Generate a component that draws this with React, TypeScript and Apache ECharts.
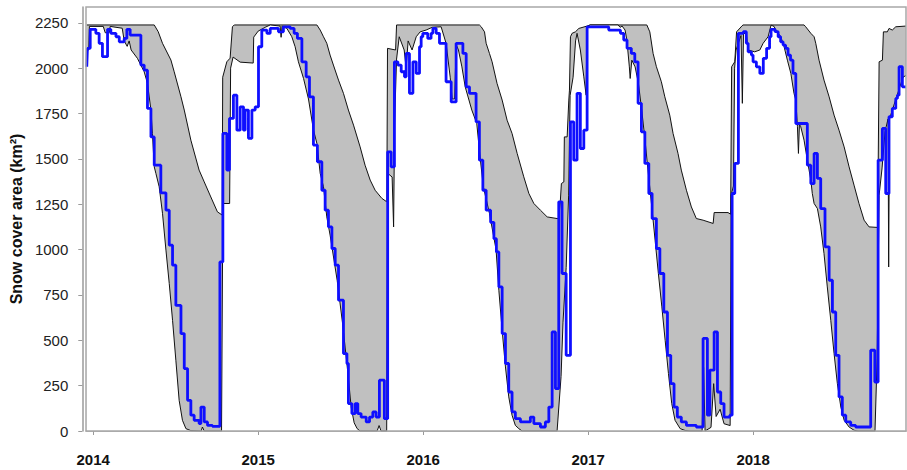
import React, { useEffect, useRef } from "react";
import * as echarts from "echarts";

const yearTicks = [2014, 2015, 2016, 2017, 2018];
const areaTicks = [0, 250, 500, 750, 1000, 1250, 1500, 1750, 2000, 2250];

// Upper envelope of the range (decimal year, km²)
const upperEnvelope: [number, number][] = [
  [2013.961, 2238], [2014.370, 2238], [2014.394, 2201], [2014.420, 2137], [2014.471, 2045], [2014.491, 1980],
  [2014.532, 1842], [2014.552, 1769], [2014.592, 1603], [2014.642, 1438], [2014.673, 1373], [2014.713, 1290],
  [2014.753, 1208], [2014.782, 1190], [2014.785, 1950], [2014.810, 2035], [2014.830, 2055], [2014.844, 2228],
  [2014.855, 2238],
  [2015.356, 2238], [2015.376, 2210], [2015.396, 2173], [2015.416, 2137], [2015.436, 2072], [2015.456, 2017],
  [2015.487, 1934], [2015.517, 1861], [2015.547, 1769], [2015.578, 1686], [2015.618, 1566], [2015.648, 1465],
  [2015.679, 1383], [2015.709, 1327], [2015.750, 1282], [2015.780, 1263], [2015.784, 2109], [2015.833, 2100],
  [2015.839, 2238],
  [2016.341, 2238], [2016.352, 2228], [2016.372, 2200], [2016.382, 2137], [2016.402, 2081], [2016.418, 2035],
  [2016.448, 1916], [2016.479, 1824], [2016.509, 1713], [2016.539, 1640], [2016.570, 1530], [2016.610, 1401],
  [2016.641, 1309], [2016.671, 1254], [2016.711, 1217], [2016.752, 1180], [2016.812, 1171], [2016.822, 1171],
  [2016.832, 1272], [2016.838, 1364], [2016.853, 1373], [2016.856, 1621], [2016.873, 1621], [2016.883, 1824],
  [2016.887, 1879], [2016.893, 2173], [2016.903, 2192], [2016.923, 2200], [2016.944, 2219], [2016.994, 2232],
  [2017.012, 2238],
  [2017.356, 2238], [2017.374, 2200], [2017.394, 2081], [2017.414, 2008], [2017.444, 1925], [2017.465, 1842],
  [2017.495, 1741], [2017.515, 1640], [2017.545, 1530], [2017.565, 1438], [2017.596, 1327], [2017.626, 1235],
  [2017.656, 1171], [2017.697, 1162], [2017.758, 1144], [2017.764, 1204], [2017.848, 1204], [2017.864, 1195],
  [2017.870, 2008], [2017.889, 2035], [2017.900, 2200], [2017.932, 2232], [2017.939, 2238],
  [2018.309, 2238], [2018.319, 2228], [2018.350, 2192], [2018.370, 2173], [2018.380, 2137], [2018.400, 2044],
  [2018.430, 1934], [2018.461, 1842], [2018.491, 1741], [2018.521, 1658], [2018.552, 1566], [2018.582, 1456],
  [2018.612, 1355], [2018.642, 1254], [2018.673, 1162], [2018.703, 1125], [2018.755, 1122], [2018.764, 2035],
  [2018.784, 2044], [2018.790, 2200], [2018.814, 2200], [2018.824, 2219], [2018.844, 2210], [2018.865, 2228],
  [2018.927, 2232],
];

// Lower envelope of the range
const lowerEnvelope: [number, number][] = [
  [2013.961, 2100], [2013.973, 2100], [2013.977, 2230], [2014.061, 2230], [2014.073, 2195], [2014.097, 2195],
  [2014.103, 2230], [2014.176, 2220], [2014.188, 2150], [2014.206, 2120], [2014.218, 2150], [2014.230, 2100],
  [2014.268, 2054], [2014.309, 1980], [2014.329, 1916], [2014.350, 1769], [2014.359, 1641], [2014.370, 1456],
  [2014.380, 1420], [2014.400, 1346], [2014.420, 1200], [2014.441, 997], [2014.461, 813], [2014.481, 610],
  [2014.501, 390], [2014.521, 169], [2014.541, 59], [2014.562, 13], [2014.592, 2], [2014.655, 0],
  [2014.662, 22], [2014.673, 0], [2014.778, 0], [2014.786, 1254], [2014.827, 1254], [2014.833, 2000],
  [2014.848, 2061], [2014.891, 2033], [2014.970, 2028], [2014.973, 2171], [2015.000, 2204], [2015.042, 2225],
  [2015.073, 2238], [2015.133, 2232], [2015.139, 2170], [2015.145, 2232], [2015.174, 2219], [2015.204, 2173],
  [2015.224, 2118], [2015.244, 2035], [2015.275, 1943], [2015.305, 1830], [2015.335, 1660], [2015.356, 1585],
  [2015.376, 1420], [2015.396, 1346], [2015.416, 1180], [2015.436, 1080], [2015.479, 830], [2015.512, 590],
  [2015.542, 335], [2015.564, 130], [2015.582, 45], [2015.600, 13], [2015.618, 0], [2015.721, 0],
  [2015.733, 30], [2015.745, 0], [2015.779, 0], [2015.785, 1420], [2015.812, 1400], [2015.821, 1125],
  [2015.827, 1700], [2015.839, 2050], [2015.855, 2173], [2015.885, 2100], [2015.897, 2000], [2015.909, 2150],
  [2015.933, 2100], [2015.958, 2173], [2015.982, 2200], [2016.018, 2210], [2016.055, 2225], [2016.109, 2228],
  [2016.139, 2137], [2016.164, 1950], [2016.176, 1830], [2016.191, 1830], [2016.200, 2130], [2016.214, 2100],
  [2016.235, 2007], [2016.255, 1897], [2016.295, 1769], [2016.325, 1695], [2016.345, 1511], [2016.365, 1346],
  [2016.402, 1199], [2016.442, 1000], [2016.459, 776], [2016.479, 555], [2016.499, 353], [2016.519, 188],
  [2016.539, 87], [2016.559, 31], [2016.580, 13], [2016.600, 0], [2016.812, 0], [2016.836, 300],
  [2016.848, 600], [2016.867, 900], [2016.882, 1300], [2016.891, 1850], [2016.909, 1950], [2016.924, 2150],
  [2016.933, 2192], [2016.953, 2100], [2016.974, 1952], [2016.988, 1851], [2016.993, 2228], [2017.012, 2238],
  [2017.182, 2238], [2017.194, 2225], [2017.206, 2232], [2017.224, 2210], [2017.235, 2155], [2017.250, 2007],
  [2017.255, 1943], [2017.265, 2044], [2017.285, 2007], [2017.305, 1916], [2017.325, 1769], [2017.345, 1603],
  [2017.365, 1420], [2017.386, 1235], [2017.406, 1052], [2017.426, 868], [2017.447, 684], [2017.467, 500],
  [2017.487, 317], [2017.507, 151], [2017.527, 59], [2017.558, 13], [2017.588, 3], [2017.618, 0],
  [2017.691, 0], [2017.700, 350], [2017.709, 0], [2017.745, 20], [2017.761, 261], [2017.776, 80],
  [2017.800, 120], [2017.824, 40], [2017.861, 30], [2017.867, 1300], [2017.881, 1350], [2017.888, 2000],
  [2017.897, 2100], [2017.927, 2180], [2017.935, 1806], [2017.942, 2190], [2017.959, 2192], [2017.970, 2100],
  [2018.010, 2090], [2018.041, 2100], [2018.061, 2137], [2018.091, 2173], [2018.109, 2237], [2018.127, 2230],
  [2018.138, 2210], [2018.168, 2173], [2018.188, 2118], [2018.208, 2044], [2018.229, 1971], [2018.248, 1861],
  [2018.259, 1824], [2018.269, 1677], [2018.275, 1530], [2018.281, 1690], [2018.289, 1677], [2018.309, 1603],
  [2018.329, 1493], [2018.350, 1383], [2018.359, 1309], [2018.370, 1254], [2018.390, 1226], [2018.410, 1125],
  [2018.430, 978], [2018.450, 794], [2018.471, 610], [2018.491, 427], [2018.511, 261], [2018.532, 132],
  [2018.552, 59], [2018.582, 22], [2018.612, 4], [2018.636, 0], [2018.739, 0], [2018.752, 400],
  [2018.764, 1300], [2018.782, 1450], [2018.800, 1650], [2018.818, 1720], [2018.822, 904], [2018.827, 1720],
  [2018.848, 1780], [2018.873, 1850], [2018.891, 1900], [2018.909, 1950], [2018.927, 1960],
];

// Observed snow cover (8-day steps): [start of step, value]
const observed: [number, number][] = [
  [2013.961, 2008], [2013.965, 2109], [2013.982, 2214], [2014.016, 2192], [2014.036, 2137], [2014.056, 2063],
  [2014.087, 2214], [2014.107, 2192], [2014.138, 2173], [2014.158, 2145], [2014.188, 2164], [2014.204, 2214],
  [2014.224, 2182], [2014.289, 2017], [2014.309, 1989], [2014.329, 1778], [2014.350, 1621], [2014.370, 1465],
  [2014.410, 1313], [2014.441, 1217], [2014.461, 1024], [2014.481, 914], [2014.501, 692], [2014.532, 537],
  [2014.552, 344], [2014.572, 169], [2014.592, 87], [2014.612, 59], [2014.642, 41], [2014.653, 132],
  [2014.673, 50], [2014.693, 31], [2014.723, 26], [2014.768, 932], [2014.786, 1640], [2014.810, 1438],
  [2014.826, 1723], [2014.850, 1851], [2014.871, 1658], [2014.891, 1787], [2014.911, 1658], [2014.921, 1769],
  [2014.941, 1613], [2014.962, 1769], [2014.982, 1787], [2015.002, 2118], [2015.022, 2210], [2015.053, 2192],
  [2015.073, 2219], [2015.123, 2200], [2015.153, 2228], [2015.194, 2219], [2015.218, 2192], [2015.238, 2164],
  [2015.265, 2035], [2015.291, 1952], [2015.311, 1842], [2015.335, 1576], [2015.359, 1484], [2015.386, 1327],
  [2015.406, 1217], [2015.426, 1125], [2015.447, 1006], [2015.467, 914], [2015.487, 721], [2015.517, 427],
  [2015.538, 372], [2015.547, 151], [2015.568, 96], [2015.588, 151], [2015.604, 96], [2015.624, 77],
  [2015.655, 50], [2015.675, 77], [2015.695, 105], [2015.715, 77], [2015.735, 280], [2015.765, 68],
  [2015.785, 1539], [2015.806, 1456], [2015.826, 2035], [2015.847, 2017], [2015.867, 1980], [2015.887, 1952],
  [2015.897, 2081], [2015.917, 1861], [2015.938, 2035], [2015.958, 1971], [2015.978, 2118], [2015.988, 2173],
  [2015.998, 2192], [2016.028, 2164], [2016.048, 2192], [2016.059, 2219], [2016.079, 2192], [2016.099, 2137],
  [2016.139, 1925], [2016.170, 1814], [2016.200, 2137], [2016.241, 2081], [2016.261, 1897], [2016.281, 1861],
  [2016.321, 1704], [2016.341, 1493], [2016.362, 1327], [2016.382, 1217], [2016.409, 1150], [2016.429, 1060],
  [2016.444, 987], [2016.459, 794], [2016.479, 537], [2016.499, 372], [2016.519, 215], [2016.539, 105],
  [2016.559, 68], [2016.590, 50], [2016.650, 77], [2016.671, 41], [2016.711, 22], [2016.741, 50],
  [2016.762, 132], [2016.782, 546], [2016.802, 234], [2016.822, 1263], [2016.842, 868], [2016.867, 417],
  [2016.893, 1704], [2016.913, 1493], [2016.933, 1861], [2016.953, 1557], [2016.974, 1658], [2016.994, 2228],
  [2017.125, 2210], [2017.196, 2192], [2017.216, 2155], [2017.236, 2109], [2017.262, 2081], [2017.283, 2035],
  [2017.303, 1806], [2017.323, 1649], [2017.344, 1475], [2017.368, 1309], [2017.388, 1171], [2017.414, 1006],
  [2017.435, 868], [2017.459, 656], [2017.481, 417], [2017.501, 261], [2017.521, 132], [2017.541, 77],
  [2017.565, 50], [2017.596, 31], [2017.656, 22], [2017.697, 510], [2017.723, 87], [2017.738, 335],
  [2017.764, 546], [2017.784, 215], [2017.804, 151], [2017.824, 77], [2017.859, 87], [2017.873, 1309],
  [2017.889, 1475], [2017.911, 2192], [2017.941, 2201], [2017.959, 2137], [2017.970, 2090], [2017.990, 2072],
  [2018.000, 2035], [2018.020, 2007], [2018.041, 1971], [2018.062, 2054], [2018.082, 2109], [2018.100, 2173],
  [2018.109, 2214], [2018.133, 2201], [2018.152, 2173], [2018.167, 2145], [2018.182, 2127], [2018.197, 2109],
  [2018.212, 2072], [2018.227, 2044], [2018.242, 1971], [2018.259, 1695], [2018.329, 1465], [2018.350, 1364],
  [2018.370, 1530], [2018.390, 1392], [2018.410, 1226], [2018.436, 1015], [2018.461, 831], [2018.481, 656],
  [2018.501, 417], [2018.521, 188], [2018.541, 87], [2018.562, 50], [2018.592, 31], [2018.622, 22],
  [2018.713, 445], [2018.738, 270], [2018.758, 1493], [2018.784, 1668], [2018.804, 1309], [2018.824, 1732],
  [2018.844, 1778], [2018.865, 1833], [2018.875, 1851], [2018.885, 2008], [2018.905, 1897], [2018.927, 1897],
];

const FONT = "'Liberation Sans', Arial, sans-serif";

export default function App() {
  const ref = useRef<HTMLDivElement>(null);

  useEffect(() => {
    document.body.style.margin = "0";
    if (!ref.current) return;
    const chart = echarts.init(ref.current, undefined, { renderer: "svg" });
    chart.setOption({
      animation: false,
      backgroundColor: "#ffffff",
      grid: { left: 86, top: 7, right: 1, bottom: 39, containLabel: false },
      xAxis: {
        type: "value",
        min: 2013.958,
        max: 2018.927,
        offset: 3,
        axisLine: { show: true, lineStyle: { color: "#9a9a9a", width: 1.5 } },
        axisTick: {
          show: true,
          length: 4,
          customValues: yearTicks,
          lineStyle: { color: "#9a9a9a" },
        },
        axisLabel: {
          customValues: yearTicks,
          formatter: (v: number) => String(Math.round(v)),
          fontFamily: FONT,
          fontSize: 15,
          fontWeight: "bold",
          color: "#111",
          margin: 18,
        },
        splitLine: { show: false },
      },
      yAxis: {
        type: "value",
        min: 0,
        max: 2337,
        offset: 4,
        name: "Snow cover area (km²)",
        nameLocation: "middle",
        nameRotate: 90,
        nameGap: 56,
        nameTextStyle: { fontFamily: FONT, fontSize: 16, fontWeight: "bold", color: "#111" },
        axisLine: { show: true, lineStyle: { color: "#9a9a9a", width: 1.5 } },
        axisTick: {
          show: true,
          length: 4,
          customValues: areaTicks,
          lineStyle: { color: "#9a9a9a" },
        },
        axisLabel: {
          customValues: areaTicks,
          formatter: (v: number) => String(Math.round(v)),
          fontFamily: FONT,
          fontSize: 15,
          color: "#222",
          margin: 14,
        },
        splitLine: { show: false },
      },
      graphic: [
        {
          type: "rect",
          z: 100,
          silent: true,
          shape: { x: 86, y: 7, width: 820, height: 424 },
          style: { fill: "none", stroke: "#a8a8a8", lineWidth: 1.5 },
        },
      ],
      series: [
        {
          name: "Upper",
          type: "line",
          data: upperEnvelope,
          symbol: "none",
          lineStyle: { color: "#111", width: 1 },
          areaStyle: { color: "#c0c0c0", opacity: 1 },
          z: 2,
        },
        {
          name: "Lower",
          type: "line",
          data: lowerEnvelope,
          symbol: "none",
          lineStyle: { color: "#111", width: 1 },
          areaStyle: { color: "#ffffff", opacity: 1 },
          z: 3,
        },
        {
          name: "Observed",
          type: "line",
          step: "end",
          data: observed,
          symbol: "none",
          lineStyle: { color: "#0f0fff", width: 2.8 },
          z: 4,
        },
      ],
    });
    return () => chart.dispose();
  }, []);

  return <div ref={ref} style={{ width: 907, height: 470 }} />;
}
